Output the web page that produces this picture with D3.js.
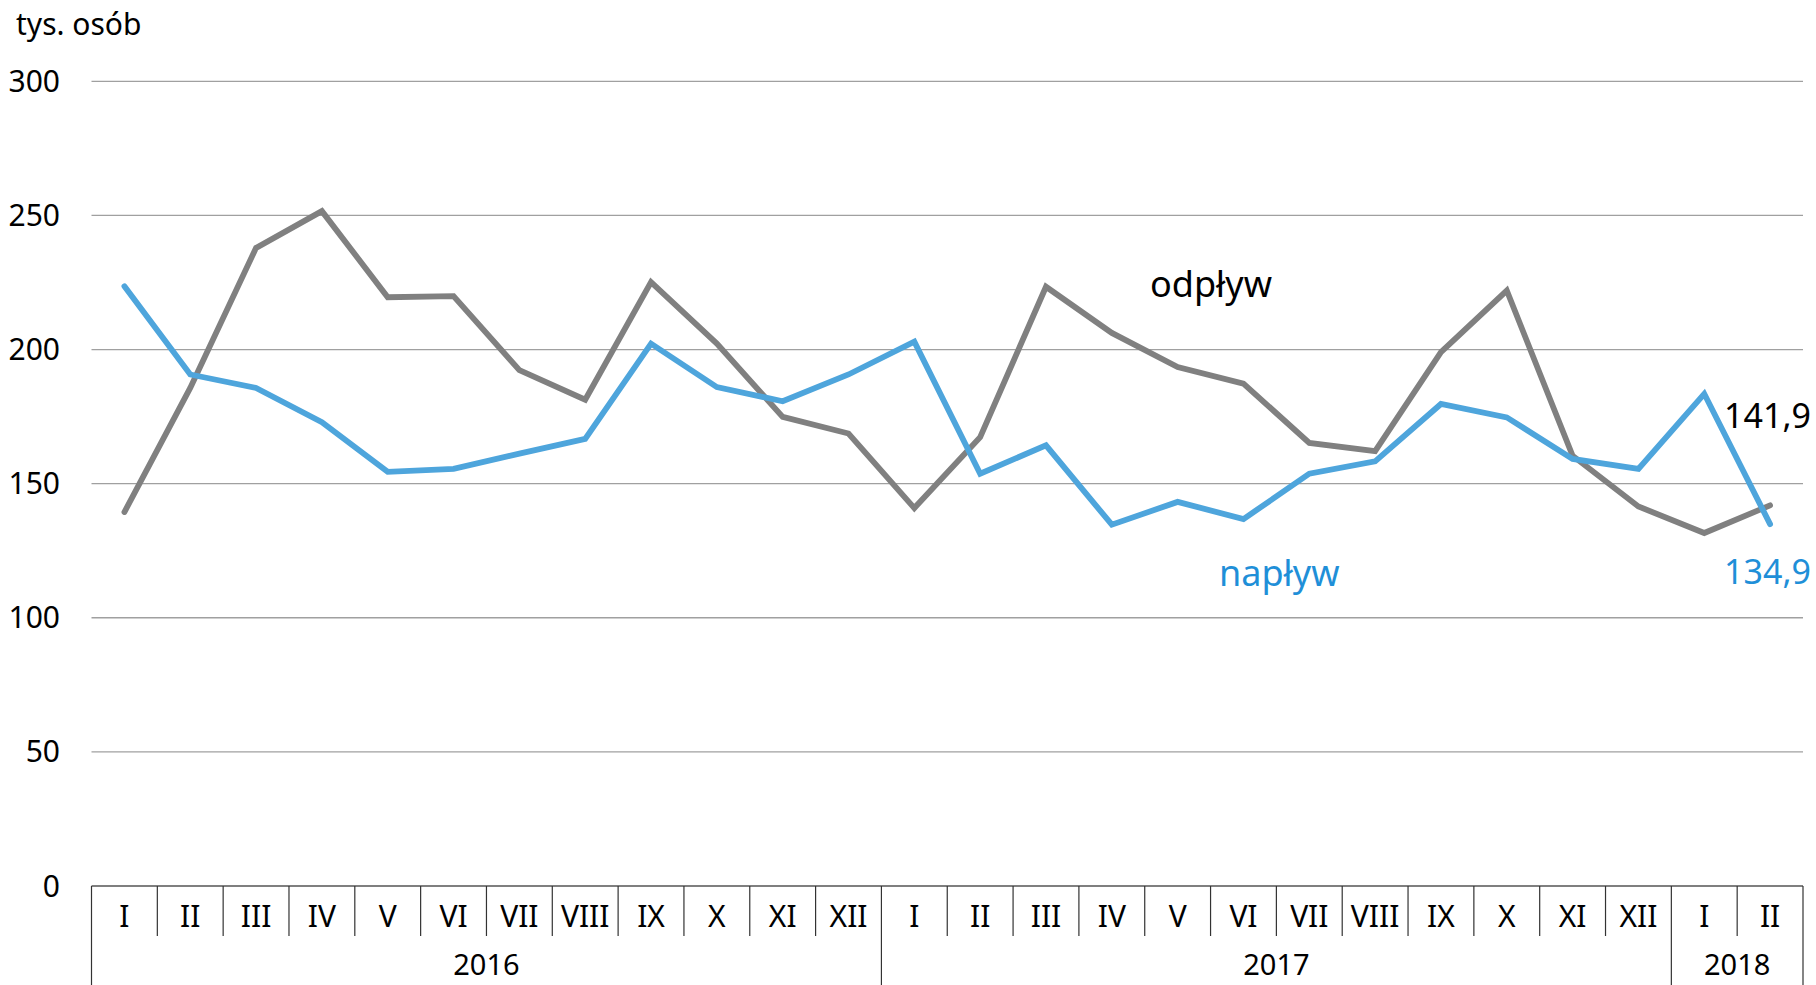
<!DOCTYPE html>
<html><head><meta charset="utf-8">
<script src="https://cdn.jsdelivr.net/npm/d3@7"></script>
<style>
html,body{margin:0;padding:0;background:#fff;}
svg text{font-family:"Noto Sans",sans-serif;}
</style></head>
<body><svg id="c" width="1816" height="985"></svg>
<script>
const months = ["I","II","III","IV","V","VI","VII","VIII","IX","X","XI","XII","I","II","III","IV","V","VI","VII","VIII","IX","X","XI","XII","I","II"];
const years = [{label:"2016", start:0, end:12},{label:"2017", start:12, end:24},{label:"2018", start:24, end:26}];
const naplyw = [223.6,190.7,185.7,172.9,154.4,155.5,161.2,166.7,202.2,186.0,180.7,190.7,202.9,153.7,164.3,134.7,143.2,136.8,153.7,158.3,179.7,174.7,159.2,155.5,183.5,134.9];
const odplyw = [139.4,185.7,237.9,251.6,219.5,219.9,192.3,181.3,225.1,202.2,174.9,168.7,140.9,167.3,223.4,206.2,193.5,187.3,165.2,162.1,199.0,222.0,160.4,141.5,131.6,141.9];
const yTicks = [0,50,100,150,200,250,300];
const unitLabel = "tys. osób";
const lastNaplyw = "134,9", lastOdplyw = "141,9";

const svg = d3.select("#c");
const L = 91.5, R = 1803, T = 81.3, B = 886;
const x = d3.scaleBand().domain(d3.range(months.length)).range([L, R]).padding(0);
const y = d3.scaleLinear().domain([0,300]).range([B, T]);
const cx = i => x(i) + x.bandwidth()/2;

// gridlines
svg.append("g").selectAll("line").data(yTicks.filter(d=>d>0)).join("line")
  .attr("x1", L).attr("x2", R).attr("y1", d=>y(d)).attr("y2", d=>y(d))
  .attr("stroke", "#a0a0a0").attr("stroke-width", 1.3);

// y labels
svg.append("g").selectAll("text").data(yTicks).join("text")
  .attr("x", 60).attr("y", d=>y(d)).attr("dy","0.35em").attr("text-anchor","end")
  .attr("font-size", 30).attr("fill","#000").text(d=>d);

svg.append("text").attr("x", 16).attr("y", 24).attr("dy","0.35em")
  .attr("font-size", 30).attr("fill","#000").text(unitLabel);

// x axis
svg.append("line").attr("x1", L).attr("x2", R).attr("y1", B).attr("y2", B)
  .attr("stroke", "#555").attr("stroke-width", 1.5);
const seps = d3.range(months.length+1);
const yearBounds = new Set([0,12,24,26]);
svg.append("g").selectAll("line").data(seps).join("line")
  .attr("x1", i => i<months.length ? x(i) : R).attr("x2", i => i<months.length ? x(i) : R)
  .attr("y1", B).attr("y2", i => yearBounds.has(i) ? 985 : 936)
  .attr("stroke", "#333").attr("stroke-width", 1.2);

svg.append("g").selectAll("text").data(months).join("text")
  .attr("x", (d,i)=>cx(i)).attr("y", 916).attr("dy","0.35em").attr("text-anchor","middle")
  .attr("font-size", 30).attr("fill","#000").text(d=>d);

svg.append("g").selectAll("text").data(years).join("text")
  .attr("x", d => (x(d.start) + (d.end<months.length ? x(d.end) : R))/2).attr("y", 965).attr("dy","0.35em")
  .attr("text-anchor","middle").attr("font-size", 29).attr("fill","#000").text(d=>d.label);

// lines
const line = d3.line().x((d,i)=>cx(i)).y(d=>y(d));
svg.append("path").datum(odplyw).attr("d", line).attr("fill","none")
  .attr("stroke","#808080").attr("stroke-width",5.8).attr("stroke-linejoin","miter").attr("stroke-linecap","round");
svg.append("path").datum(naplyw).attr("d", line).attr("fill","none")
  .attr("stroke","#4ea5dc").attr("stroke-width",5.8).attr("stroke-linejoin","miter").attr("stroke-linecap","round");

// labels
svg.append("text").attr("x", 1150).attr("y", 284).attr("dy","0.35em")
  .attr("font-size", 36).attr("fill","#000").text("odpływ");
svg.append("text").attr("x", 1219).attr("y", 573).attr("dy","0.35em")
  .attr("font-size", 36).attr("fill","#1f8fd8").text("napływ");
svg.append("text").attr("x", 1811).attr("y", 416).attr("dy","0.35em").attr("text-anchor","end")
  .attr("font-size", 34).attr("fill","#000").text(lastOdplyw);
svg.append("text").attr("x", 1811).attr("y", 572).attr("dy","0.35em").attr("text-anchor","end")
  .attr("font-size", 34).attr("fill","#1f8fd8").text(lastNaplyw);
</script></body></html>
